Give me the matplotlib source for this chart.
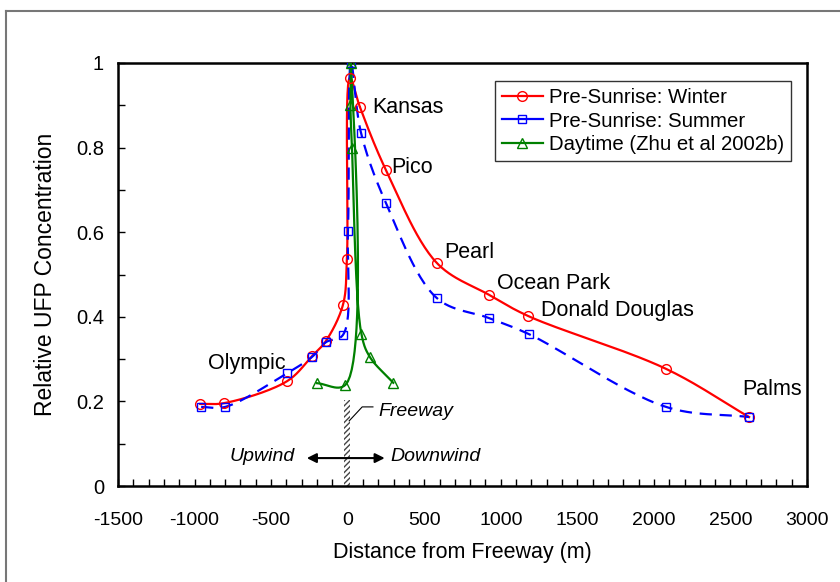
import numpy as np
import matplotlib
matplotlib.use('Agg')
import matplotlib.pyplot as plt
from matplotlib.patches import Rectangle
from matplotlib.lines import Line2D

plt.rcParams['font.family'] = ['Liberation Sans', 'DejaVu Sans']
plt.rcParams['axes.unicode_minus'] = False

# data
winter_x = [-963, -806, -395, -233, -142, -31, -5, 15, 80, 250, 583, 923, 1178, 2079, 2622]
winter_y = [0.194, 0.196, 0.248, 0.307, 0.343, 0.428, 0.537, 0.965, 0.896, 0.747, 0.527, 0.452, 0.402, 0.277, 0.163]

summer_x = [-957, -800, -395, -233, -142, -31, 2, 22, 87, 250, 583, 923, 1184, 2079, 2622]
summer_y = [0.187, 0.187, 0.267, 0.305, 0.340, 0.357, 0.603, 1.0, 0.835, 0.669, 0.444, 0.397, 0.359, 0.187, 0.163]

day_x = [-200, -15, 20, 18, 28, 90, 145, 298]
day_y = [0.243, 0.239, 1.0, 0.90, 0.80, 0.359, 0.305, 0.244]

sites = ['Olympic', 'Kansas', 'Pico', 'Pearl', 'Ocean Park', 'Donald Douglas', 'Palms']
site_x = [-910, 160, 285, 630, 975, 1265, 2575]
site_y = [0.290, 0.895, 0.752, 0.552, 0.478, 0.416, 0.227]


def smooth(xs, ys, sx=689 / 4500.0, sy=423.0, n=30, alpha=0.5):
    # centripetal Catmull-Rom through the points, in screen-like units
    p = np.column_stack([np.asarray(xs) * sx, np.asarray(ys) * sy])
    p = np.vstack([2 * p[0] - p[1], p, 2 * p[-1] - p[-2]])
    out = []
    for i in range(1, len(p) - 2):
        p0, p1, p2, p3 = p[i - 1], p[i], p[i + 1], p[i + 2]
        t0 = 0.0
        t1 = t0 + max(np.linalg.norm(p1 - p0), 1e-6) ** alpha
        t2 = t1 + max(np.linalg.norm(p2 - p1), 1e-6) ** alpha
        t3 = t2 + max(np.linalg.norm(p3 - p2), 1e-6) ** alpha
        t = np.linspace(t1, t2, n)[:, None]
        a1 = (t1 - t) / (t1 - t0) * p0 + (t - t0) / (t1 - t0) * p1
        a2 = (t2 - t) / (t2 - t1) * p1 + (t - t1) / (t2 - t1) * p2
        a3 = (t3 - t) / (t3 - t2) * p2 + (t - t2) / (t3 - t2) * p3
        b1 = (t2 - t) / (t2 - t0) * a1 + (t - t0) / (t2 - t0) * a2
        b2 = (t3 - t) / (t3 - t1) * a2 + (t - t1) / (t3 - t1) * a3
        out.append((t2 - t) / (t2 - t1) * b1 + (t - t1) / (t2 - t1) * b2)
    c = np.vstack(out)
    return c[:, 0] / sx, c[:, 1] / sy


fig = plt.figure(figsize=(8.4, 5.82), dpi=100)
ax = fig.add_axes([118 / 840, 96 / 582, 689 / 840, 423 / 582])

# figure frame
fig.add_artist(Line2D([6 / 840, 1.0], [1 - 11 / 582, 1 - 11 / 582], color='#777777', lw=1.5))
fig.add_artist(Line2D([6 / 840, 6 / 840], [0, 1 - 11 / 582], color='#777777', lw=1.5))

ms = 7
x, y = smooth(winter_x, winter_y)
ax.plot(x, y, color='red', lw=1.6, zorder=3)
ax.plot(winter_x, winter_y, 'o', color='red', mfc='none', ms=ms, mew=1.0, zorder=4)

x, y = smooth(summer_x, summer_y)
ax.plot(x, y, color='blue', lw=1.6, dashes=(5.5, 3.5), zorder=3)
ax.plot(summer_x, summer_y, 's', color='blue', mfc='none', ms=ms - 1, mew=1.0, zorder=4)

x, y = smooth(day_x, day_y)
ax.plot(x, y, color='green', lw=1.6, zorder=3)
ax.plot(day_x, day_y, '^', color='green', mfc='none', ms=ms - 0.5, mew=1.0, zorder=4)

h1 = Line2D([], [], color='red', lw=1.6, marker='o', mfc='none', ms=ms)
h2 = Line2D([], [], color='blue', lw=1.6, marker='s', mfc='none', ms=ms - 1)
h3 = Line2D([], [], color='green', lw=1.6, marker='^', mfc='none', ms=ms - 0.5)
leg = ax.legend([h1, h2, h3], ['Pre-Sunrise: Winter', 'Pre-Sunrise: Summer', 'Daytime (Zhu et al 2002b)'],
                loc='upper right', bbox_to_anchor=(1 - 16 / 689, 1 - 18 / 423), borderaxespad=0,
                fontsize=14.7, frameon=True, fancybox=False, edgecolor='black',
                handlelength=2.0, handletextpad=0.3, labelspacing=0.22, borderpad=0.35)
leg.get_frame().set_linewidth(1.0)

for name, sx_, sy_ in zip(sites, site_x, site_y):
    ax.text(sx_, sy_, name, fontsize=15.5, ha='left', va='center')

# freeway marker
ax.add_patch(Rectangle((-22, 0), 40, 0.203, facecolor='white', edgecolor='#444444',
                       hatch='//////', lw=0, zorder=2))
ax.plot([10, 95, 165], [0.154, 0.187, 0.187], color='black', lw=0.8)
ax.text(200, 0.175, 'Freeway', fontsize=14, style='italic', ha='left', va='center')
ax.annotate('', xy=(-285, 0.066), xytext=(260, 0.066),
            arrowprops=dict(arrowstyle='<|-|>', color='black', lw=1.5, mutation_scale=14))
ax.text(-345, 0.069, 'Upwind', fontsize=14, style='italic', ha='right', va='center')
ax.text(280, 0.069, 'Downwind', fontsize=14, style='italic', ha='left', va='center')

ax.set_xlim(-1500, 3000)
ax.set_ylim(0, 1)
ax.set_xticks(np.arange(-1500, 3001, 500))
ax.set_xticks(np.arange(-1500, 3001, 100), minor=True)
ax.set_yticks(np.arange(0, 1.01, 0.2))
ax.set_yticks(np.arange(0, 1.01, 0.1), minor=True)
ax.set_yticklabels(['0', '0.2', '0.4', '0.6', '0.8', '1'])
ax.tick_params(which='both', direction='in', length=5, width=1)
ax.tick_params(axis='x', labelsize=14, pad=19)
ax.tick_params(axis='y', labelsize=14.5, pad=10)
for s in ax.spines.values():
    s.set_linewidth(1.8)

ax.set_xlabel('Distance from Freeway (m)', fontsize=15.5, labelpad=9)
ax.set_ylabel('Relative UFP Concentration', fontsize=16.5, labelpad=14)

fig.savefig('out.png', dpi=100)
